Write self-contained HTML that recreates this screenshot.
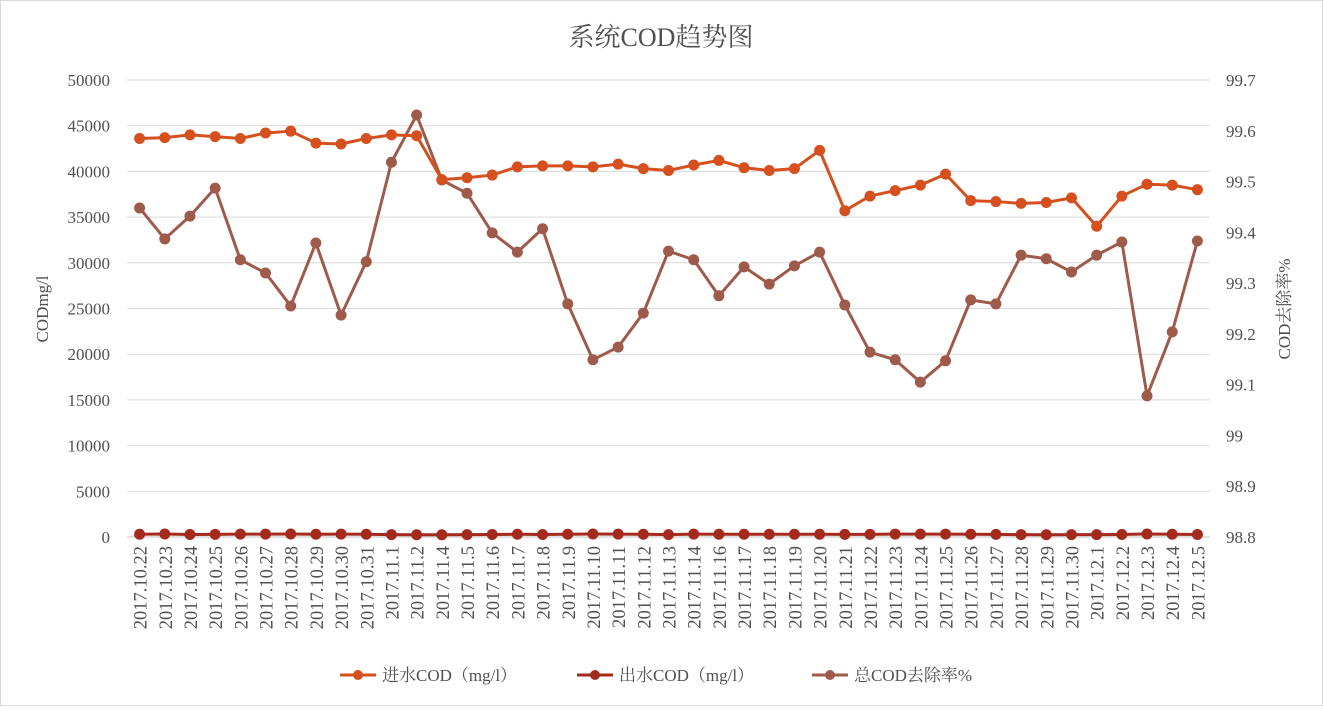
<!DOCTYPE html>
<html><head><meta charset="utf-8"><style>
body{margin:0;background:#fff;width:1323px;height:706px;overflow:hidden}
svg text{font-family:"Liberation Serif","Noto Serif CJK SC",serif;fill:#505050}
</style></head><body>
<svg id="chart" width="1323" height="706">
<rect x="0.5" y="0.5" width="1322" height="705" fill="#fff" stroke="#d9d9d9"/>
<text x="661" y="46" font-size="26" text-anchor="middle">系统COD趋势图</text>
<g id="grid"></g><g id="axes"></g><g id="series"></g>
<text transform="translate(48,309) rotate(-90)" font-size="17" text-anchor="middle">CODmg/l</text>
<text transform="translate(1290,309) rotate(-90)" font-size="17" text-anchor="middle">COD去除率%</text>
<g id="legend"></g>
</svg>
<script>
const categories=["2017.10.22","2017.10.23","2017.10.24","2017.10.25","2017.10.26","2017.10.27","2017.10.28","2017.10.29","2017.10.30","2017.10.31","2017.11.1","2017.11.2","2017.11.4","2017.11.5","2017.11.6","2017.11.7","2017.11.8","2017.11.9","2017.11.10","2017.11.11","2017.11.12","2017.11.13","2017.11.14","2017.11.16","2017.11.17","2017.11.18","2017.11.19","2017.11.20","2017.11.21","2017.11.22","2017.11.23","2017.11.24","2017.11.25","2017.11.26","2017.11.27","2017.11.28","2017.11.29","2017.11.30","2017.12.1","2017.12.2","2017.12.3","2017.12.4","2017.12.5"];
const inflow=[43600,43700,44000,43800,43600,44200,44400,43100,43000,43600,44000,43900,39100,39300,39600,40500,40600,40600,40500,40800,40300,40100,40700,41200,40400,40100,40300,42300,35700,37300,37900,38500,39700,36800,36700,36500,36600,37100,34000,37300,38600,38500,38000];
const outflow=[300,330,280,290,310,320,330,300,320,300,260,250,240,260,270,300,270,300,330,320,300,260,310,300,300,300,300,300,290,290,320,310,320,300,290,260,250,260,260,270,330,300,280];
const removal=[99.448,99.387,99.432,99.487,99.346,99.32,99.255,99.379,99.237,99.342,99.538,99.631,99.503,99.477,99.399,99.361,99.407,99.259,99.149,99.174,99.241,99.363,99.346,99.275,99.332,99.298,99.334,99.361,99.257,99.164,99.149,99.105,99.147,99.267,99.259,99.355,99.348,99.322,99.355,99.381,99.078,99.204,99.383];
const leftTicks=[0,5000,10000,15000,20000,25000,30000,35000,40000,45000,50000];
const rightTicks=["98.8","98.9","99","99.1","99.2","99.3","99.4","99.5","99.6","99.7"];
const NS="http://www.w3.org/2000/svg";
const X0=127,X1=1210,Y0=537,Y1=80;
const step=(X1-X0)/categories.length;
const x=i=>X0+step*(i+0.5);
const yL=v=>Y0-(v/50000)*(Y0-Y1);
const yR=v=>Y0-((v-98.8)/0.9)*(Y0-Y1);
function mk(t,a,p){const e=document.createElementNS(NS,t);for(const k in a)e.setAttribute(k,a[k]);p.appendChild(e);return e;}
const grid=document.getElementById('grid'),axes=document.getElementById('axes'),ser=document.getElementById('series'),leg=document.getElementById('legend');
leftTicks.forEach(v=>{
 const l=mk('line',{x1:X0,x2:X1,y1:yL(v),y2:yL(v),stroke:v===0?'#bfbfbf':'#d9d9d9','stroke-width':1},grid);
 
 
 const t=mk('text',{x:110,y:yL(v)+6,'font-size':17,'text-anchor':'end'},axes);t.textContent=v;
 
 
});
rightTicks.forEach(v=>{
 const t=mk('text',{x:1226,y:yR(parseFloat(v))+6,'font-size':17},axes);t.textContent=v;
 
 
});
categories.forEach((c,i)=>{
 const t=mk('text',{transform:`translate(${x(i)+7},546) rotate(-90)`,'font-size':18.5,'text-anchor':'end'},axes);t.textContent=c;
 
 
});
function series(vals,yf,color,name){
 const g=mk('g',{},ser);
 
 
 mk('polyline',{points:vals.map((v,i)=>x(i)+','+yf(v)).join(' '),fill:'none',stroke:color,'stroke-width':3,'stroke-linejoin':'round'},g);
 vals.forEach((v,i)=>{const c=mk('circle',{cx:x(i),cy:yf(v),r:5.5,fill:color},g);
  
  });
}
series(removal,yR,'#9E5B4B','removal-series');
series(outflow,yL,'#A52A1E','outflow-series');
series(inflow,yL,'#D5501E','inflow-series');
const items=[["进水COD（mg/l）",'#D5501E',340],["出水COD（mg/l）",'#A52A1E',577],["总COD去除率%",'#9E5B4B',812]];
items.forEach(([t,c,lx])=>{
 const g=mk('g',{},leg);
 
 
 mk('line',{x1:lx,x2:lx+36,y1:675,y2:675,stroke:c,'stroke-width':3},g);
 mk('circle',{cx:lx+18,cy:675,r:5,fill:c},g);
 const tx=mk('text',{x:lx+42,y:681,'font-size':17},g);tx.textContent=t;
});
</script>
</body></html>
